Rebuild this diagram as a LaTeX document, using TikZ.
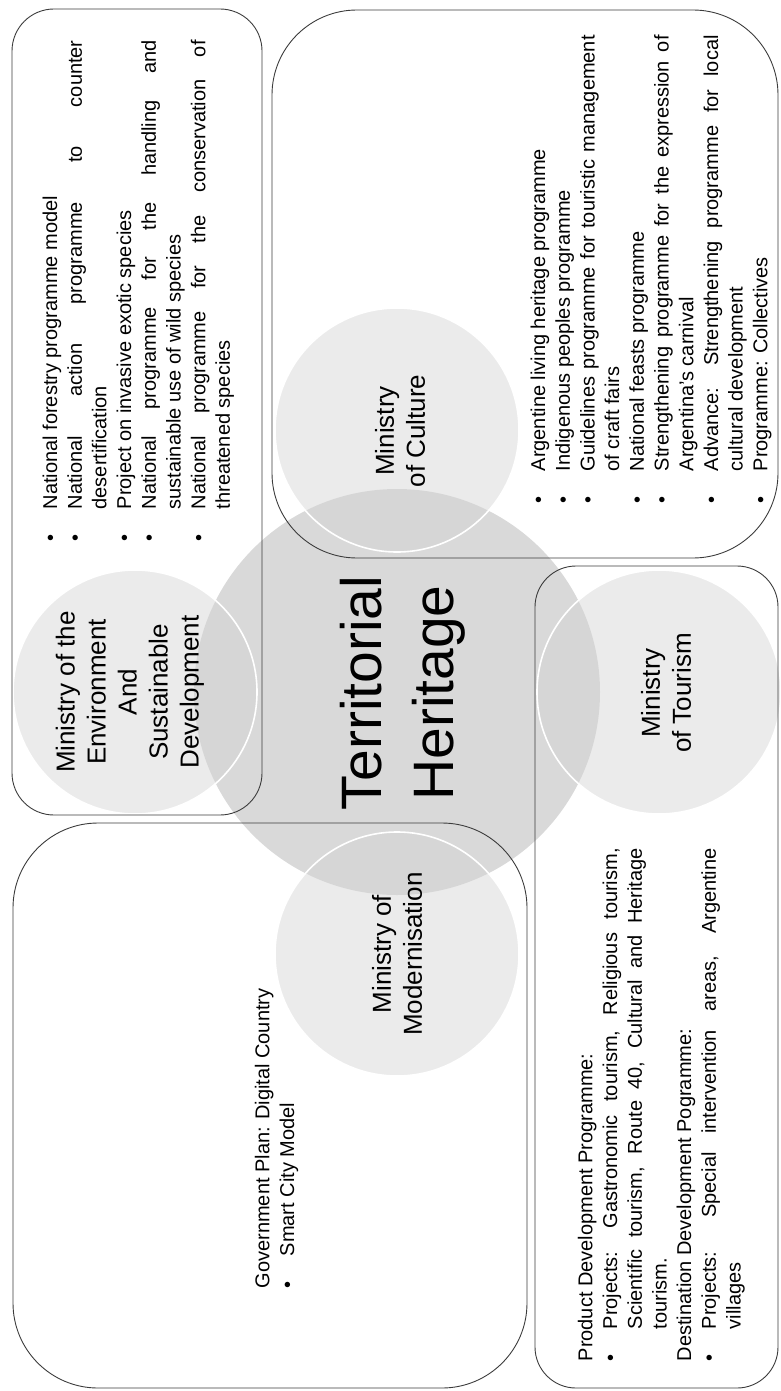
\documentclass[tikz,border=0pt]{standalone}
\usepackage{fontspec}
\setmainfont{Liberation Sans}
\definecolor{hubgray}{RGB}{217,217,217}
\definecolor{ringgray}{RGB}{212,212,212}
\definecolor{edgegray}{RGB}{60,60,60}
\tikzstyle{hub} = [circle, fill=hubgray, minimum size=406pt, inner sep=0pt]
\tikzstyle{ministry} = [circle, fill=ringgray, fill opacity=0.47, draw=white, line width=1.6pt, minimum size=244pt, inner sep=0pt]
\tikzstyle{minlabel} = [rotate=90, align=center, inner sep=0pt, font=\fontsize{26}{31}\selectfont]
\tikzstyle{panel} = [draw=edgegray, line width=0.9pt]
\tikzstyle{itemlist} = [rotate=90, anchor=north west, inner sep=0pt, font=\fontsize{20}{24.7}\selectfont]
\newcommand{\listitem}{\par\hangindent=32pt\hangafter=1\noindent\makebox[32pt][l]{\textbullet}}
\newcommand{\listhead}{\par\noindent}
\newcommand{\listbox}[2]{\parbox[t]{#1}{\tolerance=10000\hbadness=10000\hyphenpenalty=10000#2}}

\begin{document}
\begin{tikzpicture}[x=1pt, y=-1pt]
    \useasboundingbox (0,0) rectangle (780,1391);

    \node[hub] (hub) at (397,692) {};
    \foreach \name / \px / \py in {env/135/692, culture/397/430, tourism/659/692, modern/397/954}{
    \node[ministry] (\name) at (\px,\py) {};
    }

    \node[rotate=90, align=center, font=\fontsize{57}{72}\selectfont] (title) at (403,693) {Territorial\\Heritage};
    \node[minlabel] (envlabel) at (130,692) {Ministry of the\\Environment\\And\\Sustainable\\Development};
    \node[minlabel] (culturelabel) at (400,431) {Ministry\\of Culture};
    \node[minlabel] (tourismlabel) at (666,693) {Ministry\\of Tourism};
    \node[minlabel] (modernlabel) at (397,954) {Ministry of\\Modernisation};

    % panels
    \draw[panel, rounded corners=42pt] (12,9) rectangle (262,815);
    \draw[panel, rounded corners=85pt] (272,10) rectangle (778,558);
    \draw[panel, rounded corners=41pt] (535,566) rectangle (778,1388);
    \draw[panel, rounded corners=85pt] (13,823) rectangle (527,1388);

    \node[itemlist] (envlist) at (42.4,541.5) {\listbox{501pt}{%
    \listitem National forestry programme model
    \listitem National action programme to counter\linebreak desertification
    \listitem Project on invasive exotic species
    \listitem National programme for the handling and\linebreak sustainable use of wild species
    \listitem National programme for the conservation of\linebreak threatened species}};

    \node[itemlist] (culturelist) at (530.4,503.5) {\listbox{468pt}{%
    \listitem Argentine living heritage programme
    \listitem Indigenous peoples programme
    \listitem Guidelines programme for touristic management\linebreak of craft fairs
    \listitem National feasts programme
    \listitem Strengthening programme for the expression of\linebreak Argentina’s carnival
    \listitem Advance: Strengthening programme for local\linebreak cultural development
    \listitem Programme: Collectives}};

    \node[itemlist] (tourismlist) at (577.7,1361.5) {\listbox{513pt}{%
    \listhead Product Development Programme:
    \listitem Projects: Gastronomic tourism, Religious tourism,\linebreak Scientific tourism, Route 40, Cultural and Heritage\linebreak tourism.
    \listhead Destination Development Pogramme:
    \listitem Projects: Special intervention areas, Argentine\linebreak villages}};

    \node[itemlist] (modernlist) at (254.7,1288.5) {\listbox{320pt}{%
    \listhead Government Plan: Digital Country
    \listitem Smart City Model}};
\end{tikzpicture}
\end{document}
